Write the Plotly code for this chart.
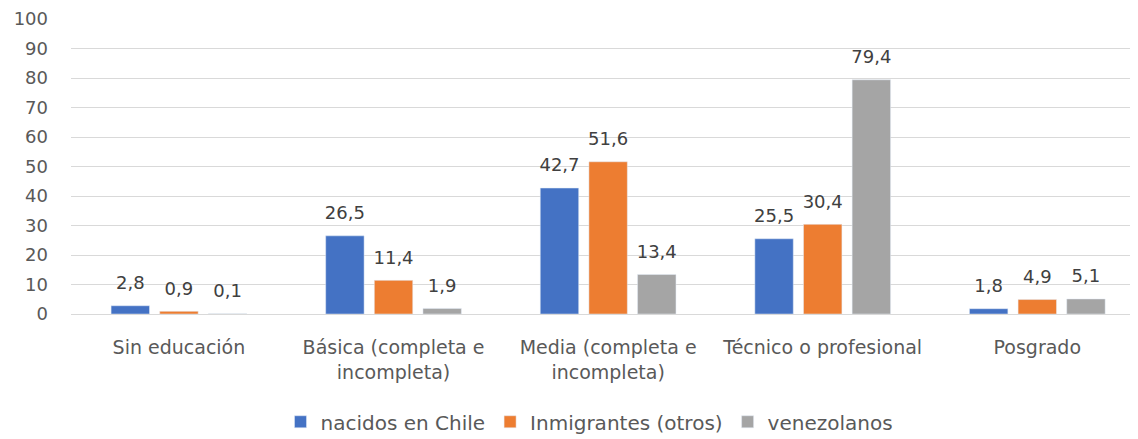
import plotly.graph_objects as go

categories = ["Sin educación", "Básica (completa e<br>incompleta)", "Media (completa e<br>incompleta)",
              "Técnico o profesional", "Posgrado"]
chile = [2.8, 26.5, 42.7, 25.5, 1.8]
inmigrantes = [0.9, 11.4, 51.6, 30.4, 4.9]
venezolanos = [0.1, 1.9, 13.4, 79.4, 5.1]
series_names = ["nacidos en Chile", "Inmigrantes (otros)", "venezolanos"]
colors = ["#4472C4", "#ED7D31", "#A5A5A5"]

FONT = "DejaVu Sans, sans-serif"

fig = go.Figure()
for name, vals, col in zip(series_names, [chile, inmigrantes, venezolanos], colors):
    fig.add_trace(go.Bar(
        x=categories, y=vals, name=name, marker_color=col,
    ))
# data labels: invisible markers so the label sits a little above the bar top
for name, vals in zip(series_names, [chile, inmigrantes, venezolanos]):
    fig.add_trace(go.Scatter(
        x=categories, y=vals, mode="markers+text", showlegend=False, hoverinfo="skip",
        marker=dict(size=18, opacity=0),
        text=[f"{v:.1f}".replace(".", ",") for v in vals],
        textposition="top center", cliponaxis=False,
        textfont=dict(size=18, color="#404040", family=FONT),
    ))

# page body adds an 8px offset, so the figure is 8px smaller than the window
fig.update_layout(
    width=1130, height=431,
    margin=dict(l=63, r=8, t=11, b=125, autoexpand=False),
    paper_bgcolor="white", plot_bgcolor="white",
    font=dict(family=FONT, size=18, color="#595959"),
    barmode="group", bargap=0.32, bargroupgap=0.21,
    scattermode="group", scattergap=0.32,
    legend=dict(orientation="h", x=0.5146, xanchor="center", xref="container",
                y=0.04, yanchor="middle", yref="container",
                font=dict(size=20, color="#595959", family=FONT), itemwidth=30, traceorder="normal"),
)
fig.update_yaxes(range=[0, 100], dtick=10, showgrid=True, gridcolor="#D9D9D9", gridwidth=1,
                 zeroline=True, zerolinecolor="#D9D9D9", zerolinewidth=1,
                 tickfont=dict(size=18, color="#595959"), ticks="", showline=False,
                 ticklabelstandoff=22)
fig.update_xaxes(showgrid=False, tickfont=dict(size=19, color="#595959"), ticks="", showline=False,
                 ticklabelstandoff=20, range=[-0.503, 4.432])

fig.write_html("out.html")
